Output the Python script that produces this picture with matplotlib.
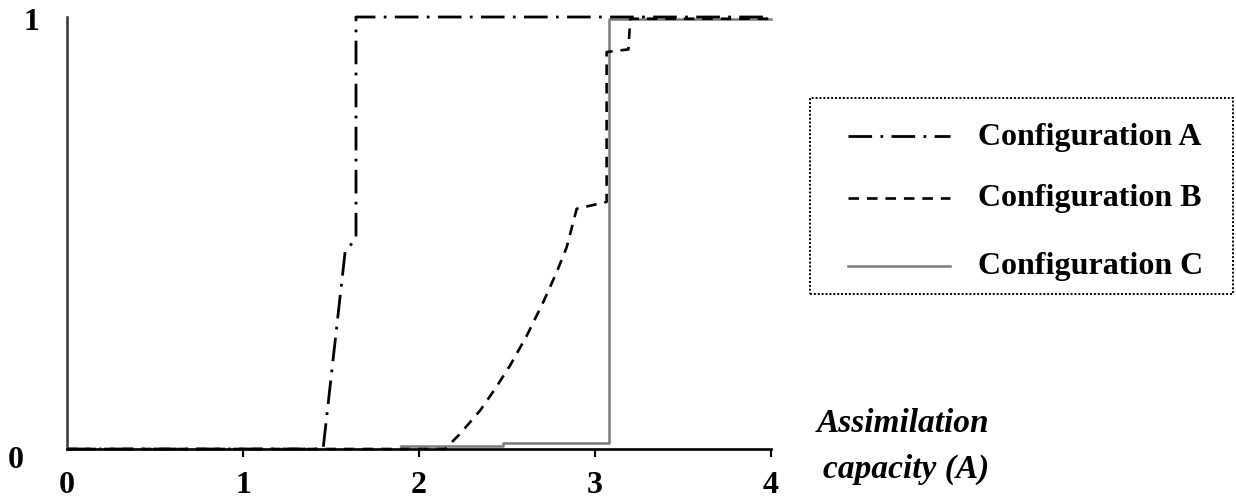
import matplotlib.pyplot as plt
from matplotlib.lines import Line2D
from matplotlib.patches import Rectangle

plt.rcParams['font.family'] = ['Liberation Serif', 'DejaVu Serif']

# Configuration A
a_x = [0.0, 1.455, 1.58, 1.642, 1.642, 4.0]
a_y = [0.0, 0.0, 0.456, 0.488, 1.0, 1.0]
# Configuration B
b_x = [0.0, 2.148, 2.233, 2.347, 2.432, 2.517, 2.612, 2.706, 2.782, 2.839, 2.896,
       3.066, 3.066, 3.19, 3.2, 4.0]
b_y = [0.0, 0.0, 0.035, 0.089, 0.139, 0.193, 0.262, 0.34, 0.409, 0.467, 0.556,
       0.572, 0.919, 0.925, 0.996, 0.996]
# Configuration C
c_x = [1.896, 2.48, 2.48, 3.08, 3.08, 4.0]
c_y = [0.007, 0.007, 0.0145, 0.0145, 0.996, 0.996]

labels = ["Configuration A", "Configuration B", "Configuration C"]
xticks = [1, 2, 3, 4]
xticklabels = ["1", "2", "3", "4"]

W, H = 1236, 502
x0, x1, y0, y1 = 67, 771, 450, 18
fig = plt.figure(figsize=(W / 100, H / 100), dpi=100)
ax = fig.add_axes([x0 / W, 1 - y0 / H, (x1 - x0) / W, (y0 - y1) / H])

style_a = dict(color="black", lw=2.0, linestyle=(0, (8.5, 3, 1, 3)))
style_b = dict(color="black", lw=1.9, linestyle=(0, (4, 3)))
style_c = dict(color="#7a7a7a", lw=1.8, linestyle="-")

ax.plot(c_x, c_y, clip_on=False, **style_c)
ax.plot(b_x, b_y, clip_on=False, **style_b)
ax.plot(a_x, a_y, clip_on=False, **style_a)

ax.set_xlim(0, 4)
ax.set_ylim(0, 1)
for s in ["top", "right"]:
    ax.spines[s].set_visible(False)
ax.spines["bottom"].set_linewidth(1.9)
ax.spines["bottom"].set_color("black")
ax.spines["left"].set_linewidth(1.8)
ax.spines["left"].set_color("#333333")

ax.set_xticks(xticks)
ax.set_xticklabels([])
ax.tick_params(axis="x", direction="out", length=6, width=1.5)
ax.set_yticks([])

# tick labels as text
tick_font = dict(fontsize=23, fontweight="bold", ha="center", va="center")
fig.text(x0 / W, 1 - 486 / H, "0", **tick_font)
for t, lab in zip(xticks, xticklabels):
    px = x0 + t * (x1 - x0) / 4
    fig.text(px / W, 1 - 486 / H, lab, **tick_font)
fig.text(16 / W, 1 - 461 / H, "0", **tick_font)
fig.text(31 / W, 1 - 22 / H, "1", **tick_font)

# axis title
title_font = dict(fontsize=24, fontweight="bold", style="italic", ha="center", va="center")
fig.text(903 / W, 1 - 424 / H, "Assimilation", **title_font)
fig.text(906 / W, 1 - 469 / H, "capacity (A)", **title_font)

# legend box
fig.add_artist(Rectangle((810 / W, 1 - 295 / H), (1233 - 810) / W, (295 - 99) / H,
                         transform=fig.transFigure, fill=False, lw=1.4,
                         linestyle=(0, (1, 1)), edgecolor="black"))
rows = [137, 199, 267]
for y, lab, st in zip(rows, labels, [style_a, style_b, style_c]):
    fig.add_artist(Line2D([848 / W, 950 / W], [1 - y / H, 1 - y / H],
                          transform=fig.transFigure, **st))
    fig.text(978 / W, 1 - y / H, lab, fontsize=23, fontweight="bold",
             ha="left", va="center")

fig.savefig("out.png", dpi=100)
